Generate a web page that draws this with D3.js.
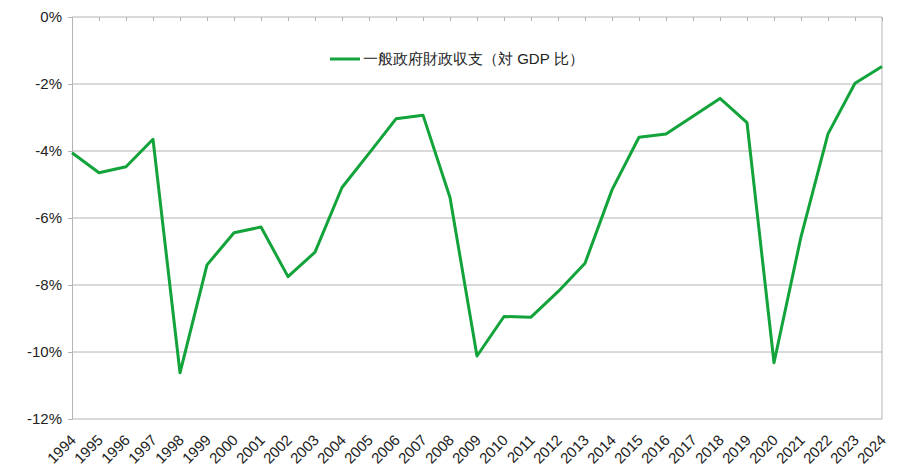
<!DOCTYPE html>
<html>
<head>
<meta charset="utf-8">
<script src="https://cdn.jsdelivr.net/npm/d3@7"></script>
<style>
  html, body { margin: 0; padding: 0; background: #fff; }
  #chart { width: 924px; height: 470px; }
  text { font-family: "Liberation Sans", Arial, sans-serif; fill: #222; }
</style>
</head>
<body>
<div id="chart"></div>
<script>
// Data: general government fiscal balance (% of GDP)
var years = d3.range(1994, 2025).map(String);
var balance = [
  -4.05, -4.65, -4.47, -3.65, -10.62, -7.40, -6.44, -6.27, -7.75, -7.02,
  -5.09, -4.07, -3.04, -2.93, -5.39, -10.12, -8.94, -8.96, -8.20, -7.35,
  -5.16, -3.59, -3.49, -2.96, -2.43, -3.15, -10.32, -6.56, -3.49, -1.98,
  -1.48
];
var yTicks = [0, -2, -4, -6, -8, -10, -12];
var seriesName = '一般政府財政収支（対 GDP 比）';

var width = 924, height = 470;
var margin = { top: 17, right: 42, bottom: 51, left: 72 };

var svg = d3.select('#chart').append('svg')
  .attr('width', width)
  .attr('height', height);

var x = d3.scalePoint()
  .domain(years)
  .range([margin.left, width - margin.right]);

var y = d3.scaleLinear()
  .domain([-12, 0])
  .range([height - margin.bottom, margin.top]);

// Horizontal gridlines
svg.append('g')
  .selectAll('line')
  .data(yTicks)
  .join('line')
  .attr('x1', margin.left)
  .attr('x2', width - margin.right)
  .attr('y1', (d) => y(d))
  .attr('y2', (d) => y(d))
  .attr('stroke', '#b4b4b4')
  .attr('stroke-width', 1);

// Right border of the plot area
svg.append('line')
  .attr('x1', width - margin.right)
  .attr('x2', width - margin.right)
  .attr('y1', y(0))
  .attr('y2', y(-12))
  .attr('stroke', '#b4b4b4');

// Left axis
var yAxis = svg.append('g')
  .attr('transform', `translate(${margin.left},0)`)
  .call(d3.axisLeft(y).tickValues(yTicks).tickSize(4).tickPadding(6)
    .tickFormat((d) => d + '%'));
yAxis.select('.domain').attr('stroke', '#b4b4b4');
yAxis.selectAll('.tick line').attr('stroke', '#b4b4b4');
yAxis.selectAll('text')
  .attr('font-size', 15)
  .attr('font-family', null)
  .attr('fill', '#222');

// Category axis crosses at 0%, ticks point down into the plot
var xAxis = svg.append('g')
  .attr('transform', `translate(0,${y(0)})`)
  .call(d3.axisBottom(x).tickSize(4).tickFormat(''));
xAxis.select('.domain').remove();
xAxis.selectAll('.tick line').attr('stroke', '#b4b4b4');

// Category labels at the bottom, rotated
svg.append('g')
  .selectAll('text')
  .data(years)
  .join('text')
  .attr('text-anchor', 'end')
  .attr('font-size', 15)
  .attr('transform', (d) => `translate(${x(d) + 5},${y(-12) + 22}) rotate(-45)`)
  .text((d) => d);

// Series line
var line = d3.line()
  .x((d, i) => x(years[i]))
  .y((d) => y(d));

svg.append('path')
  .datum(balance)
  .attr('fill', 'none')
  .attr('stroke', '#12a33a')
  .attr('stroke-width', 3)
  .attr('stroke-linejoin', 'round')
  .attr('d', line);

// Legend
var legend = svg.append('g').attr('transform', 'translate(330,59)');
legend.append('line')
  .attr('x1', 0)
  .attr('x2', 30)
  .attr('stroke', '#12a33a')
  .attr('stroke-width', 3);
legend.append('text')
  .attr('x', 33)
  .attr('dy', '0.35em')
  .attr('font-size', 15)
  .attr('font-family', '"Noto Sans CJK JP", sans-serif')
  .text(seriesName);
</script>
</body>
</html>
